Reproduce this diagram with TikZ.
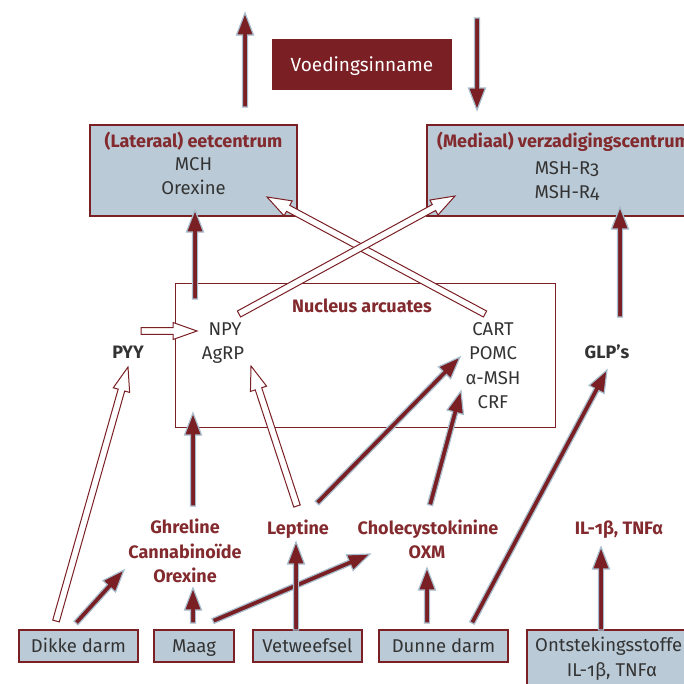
\documentclass[tikz,border=0pt]{standalone}
\usepackage{fontspec}
\setmainfont{Fira Sans}
\usetikzlibrary{calc}
\definecolor{dred}{HTML}{7A1F24}
\definecolor{lred}{HTML}{832A2E}
\definecolor{boxfill}{HTML}{BACAD6}
\definecolor{halo}{HTML}{A8BDCD}
\definecolor{tgray}{HTML}{333333}
\newcommand\arr[6]{%
  \draw[#1]
   ($(#2)!#4!90:(#3)$) --
   ($($(#3)!#6!(#2)$)!#4!90:(#3)$) --
   ($($(#3)!#6!(#2)$)!#5!90:(#3)$) --
   (#3) --
   ($($(#3)!#6!(#2)$)!#5!-90:(#3)$) --
   ($($(#3)!#6!(#2)$)!#4!-90:(#3)$) --
   ($(#2)!#4!-90:(#3)$) -- cycle;}
\newcommand\sarrow[2]{\arr{solidarr}{#1}{#2}{2.6pt}{8.5pt}{22pt}}
\newcommand\harrow[2]{\arr{hollowarr}{#1}{#2}{3.4pt}{8.5pt}{24pt}}
\newcommand\onum{\addfontfeatures{Numbers=OldStyle}}
\tikzset{
  solidarr/.style={fill=dred, draw=halo, line width=1.2pt, line join=miter},
  hollowarr/.style={fill=white, draw=dred, line width=1pt, line join=miter},
  bluebox/.style={draw=dred, fill=boxfill, line width=1.3pt, inner sep=0pt},
  txt/.style={text=tgray, font=\fontsize{18.5}{22}\selectfont, inner sep=0pt, anchor=base},
  lbl/.style={text=lred, font=\fontsize{18}{22}\selectfont\bfseries, inner sep=0pt, anchor=base},
  dlbl/.style={text=tgray, font=\fontsize{18}{22}\selectfont\bfseries, inner sep=0pt, anchor=base},
}
\begin{document}
\begin{tikzpicture}[x=1pt,y=-1pt]
\useasboundingbox (0,0) rectangle (684,683);
% ---------- boxes ----------
\node[draw=none, fill=dred, minimum width=180pt, minimum height=51pt, inner sep=0pt] (voed) at (362,64.5) {};
\node[text=white, font=\fontsize{19}{22}\selectfont, inner sep=0pt, anchor=base] (voedt) at (362,71) {Voedingsinname};
\node[bluebox, minimum width=207pt, minimum height=91pt] (lat) at (193.5,170.5) {};
\node[lbl] (latt) at (193.5,147) {(Lateraal) eetcentrum};
\node[txt] (lat1) at (193.5,170.5) {MCH};
\node[txt] (lat2) at (193.5,194.5) {Orexine};
\node[bluebox, minimum width=280pt, minimum height=91pt] (med) at (567,170.5) {};
\node[lbl, anchor=base west] (medt) at (437,147) {(Mediaal) verzadigingscentrum};
\node[txt] (med1) at (567,174.5) {MSH-R{\onum 3}};
\node[txt] (med2) at (567,198.5) {MSH-R{\onum 4}};
\node[draw=dred, line width=1pt, minimum width=380pt, minimum height=144pt, inner sep=0pt] (nuc) at (365,355) {};
\node[lbl] (nuct) at (362,312) {Nucleus arcuates};
\node[txt] (npy) at (225,335.5) {NPY};
\node[txt] (agrp) at (223,359.5) {AgRP};
\node[txt] (cart) at (493,335.5) {CART};
\node[txt] (pomc) at (493,359.5) {POMC};
\node[txt] (amsh) at (493,384.5) {α-MSH};
\node[txt] (crf) at (493,408.5) {CRF};
\node[dlbl] (pyy) at (128,358.5) {PYY};
\node[dlbl] (glp) at (607,358.5) {GLP’s};
% bottom labels
\node[lbl] (ghr) at (185,533.5) {Ghreline};
\node[lbl] (can) at (185,558.5) {Cannabinoïde};
\node[lbl] (orx) at (185,582.5) {Orexine};
\node[lbl] (lep) at (298,534) {Leptine};
\node[lbl] (cck) at (428,534) {Cholecystokinine};
\node[lbl] (oxm) at (427,558.5) {OXM};
\node[lbl] (il) at (619,534) {IL-{\onum 1}β, TNFα};
% bottom boxes
\node[bluebox, minimum width=119pt, minimum height=32pt] (dik) at (78.5,646) {};
\node[txt] at (78.5,652.5) {Dikke darm};
\node[bluebox, minimum width=80pt, minimum height=32pt] (maag) at (194,646) {};
\node[txt] at (194,652.5) {Maag};
\node[bluebox, minimum width=109pt, minimum height=32pt] (vet) at (307.5,646) {};
\node[txt] at (307.5,652.5) {Vetweefsel};
\node[bluebox, minimum width=180pt, minimum height=80pt] (ont) at (617,670) {};
\node[txt, anchor=base west] at (535,651.5) {Ontstekingsstoffen};
\node[txt] at (612,676.5) {IL-{\onum 1}β, TNFα};
\node[bluebox, minimum width=129pt, minimum height=32pt] (dun) at (443.5,646) {};
\node[txt] at (443.5,652.5) {Dunne darm};
% ---------- arrow end points ----------
\coordinate (upA) at (245,107);   \coordinate (upB) at (245,13);
\coordinate (dnA) at (477,18);    \coordinate (dnB) at (477,110);
\coordinate (nlA) at (195,299);   \coordinate (nlB) at (195,210);
\coordinate (gmA) at (620,317);   \coordinate (gmB) at (620,207);
\coordinate (ppA) at (141,331);   \coordinate (ppB) at (197,331);
\coordinate (nmA) at (239,314);   \coordinate (nmB) at (455,196);
\coordinate (clA) at (485,314);   \coordinate (clB) at (267,197);
\coordinate (dpA) at (56,621);    \coordinate (dpB) at (128,367);
\coordinate (laA) at (297,506);   \coordinate (laB) at (251,366);
\coordinate (gnA) at (193,506);   \coordinate (gnB) at (193,413);
\coordinate (lpA) at (317,503);   \coordinate (lpB) at (460,357);
\coordinate (caA) at (430,505);   \coordinate (caB) at (461,391);
\coordinate (dgA) at (472,623);   \coordinate (dgB) at (607,370);
\coordinate (dkA) at (76,623);    \coordinate (dkB) at (124,570);
\coordinate (mgA) at (193,623);   \coordinate (mgB) at (193,588);
\coordinate (mcA) at (213,621);   \coordinate (mcB) at (370,554);
\coordinate (vlA) at (296,630);   \coordinate (vlB) at (296,542);
\coordinate (doA) at (427,623);   \coordinate (doB) at (427,568);
\coordinate (oiA) at (601,630);   \coordinate (oiB) at (601,547);
% ---------- arrows ----------
\sarrow{upA}{upB}
\sarrow{dnA}{dnB}
\sarrow{nlA}{nlB}
\sarrow{gmA}{gmB}
\harrow{ppA}{ppB}
\harrow{clA}{clB}
\harrow{nmA}{nmB}
\harrow{dpA}{dpB}
\harrow{laA}{laB}
\sarrow{gnA}{gnB}
\sarrow{lpA}{lpB}
\sarrow{caA}{caB}
\sarrow{dgA}{dgB}
\sarrow{dkA}{dkB}
\sarrow{mgA}{mgB}
\sarrow{mcA}{mcB}
\sarrow{vlA}{vlB}
\sarrow{doA}{doB}
\sarrow{oiA}{oiB}
\end{tikzpicture}
\end{document}
